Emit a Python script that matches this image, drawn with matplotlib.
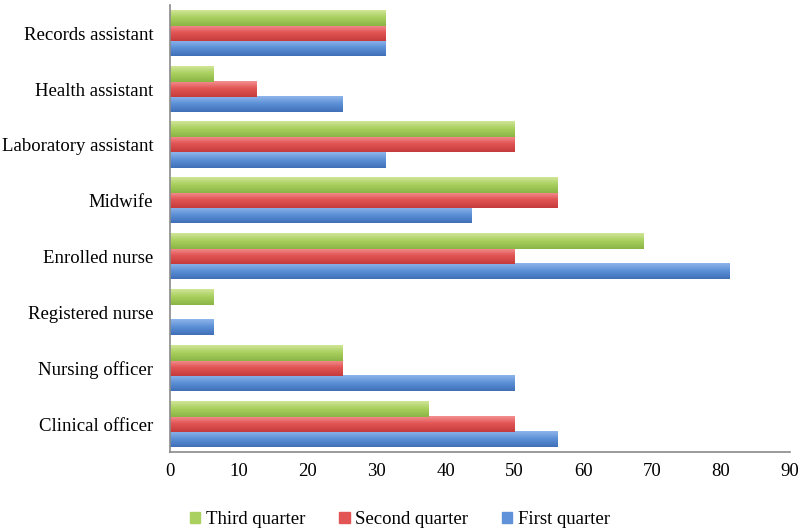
import matplotlib
matplotlib.use("Agg")
import matplotlib.pyplot as plt
import numpy as np
from matplotlib.patches import Patch
from matplotlib.colors import to_rgb

categories = ["Clinical officer", "Nursing officer", "Registered nurse", "Enrolled nurse",
              "Midwife", "Laboratory assistant", "Health assistant", "Records assistant"]
first_quarter = [56.25, 50, 6.25, 81.25, 43.75, 31.25, 25, 31.25]
second_quarter = [50, 25, 0, 50, 56.25, 50, 12.5, 31.25]
third_quarter = [37.5, 25, 6.25, 68.75, 56.25, 50, 6.25, 31.25]
xticks = [0, 10, 20, 30, 40, 50, 60, 70, 80, 90]

plt.rcParams['font.family'] = ['Liberation Serif', 'DejaVu Serif']

fig = plt.figure(figsize=(8, 5.3), dpi=100)
ax = fig.add_axes([0.2125, 0.147, 0.775, 0.843])

y = np.arange(len(categories))
h = 0.27
series = [(first_quarter, ("#8fb5ea", "#5f92d8", "#3f6fb8"), "First quarter", -h),
          (second_quarter, ("#f29090", "#e35555", "#c53c3c"), "Second quarter", 0),
          (third_quarter, ("#cfe596", "#aad160", "#8ab545"), "Third quarter", h)]

def gradient(cols, n=32):
    top, mid, bot = [np.array(to_rgb(c)) for c in cols]
    t = np.linspace(0, 1, n)
    rows = []
    for v in t:
        if v < 0.45:
            c = top + (mid - top) * (v / 0.45)
        else:
            c = mid + (bot - mid) * ((v - 0.45) / 0.55)
        rows.append(c)
    return np.array(rows)[:, None, :]

for vals, cols, lab, off in series:
    bars = ax.barh(y + off, vals, height=h, color=cols[1], edgecolor="none", label=lab, zorder=1)
    g = gradient(cols)
    for r in bars:
        w = r.get_width()
        if w <= 0:
            continue
        x0, y0, hh = r.get_x(), r.get_y(), r.get_height()
        ax.imshow(g, extent=[x0, x0 + w, y0, y0 + hh], origin="upper", aspect="auto",
                  interpolation="bilinear", zorder=2)

ax.set_xlim(0, 90)
ax.set_ylim(-0.5, len(categories) - 0.5)
ax.set_aspect("auto")
ax.set_xticks(xticks)
ax.set_yticks(y)
ax.set_yticklabels(categories, fontsize=13.5)
ax.tick_params(axis='x', length=0, labelsize=13.5, pad=8)
ax.tick_params(axis='y', length=0, pad=12)
for s in ["top", "right"]:
    ax.spines[s].set_visible(False)
for s in ["left", "bottom"]:
    ax.spines[s].set_color("#8a8a8a")
    ax.spines[s].set_linewidth(1.2)
    ax.spines[s].set_zorder(3)

handles = [Patch(color="#aad160", label="Third quarter"),
           Patch(color="#e35555", label="Second quarter"),
           Patch(color="#5f92d8", label="First quarter")]
fig.legend(handles=handles, loc="center", bbox_to_anchor=(0.5, 0.02), ncol=3, frameon=False,
           fontsize=13.5, handlelength=0.55, handleheight=0.55, handletextpad=0.3, columnspacing=1.8)

fig.savefig("out.png", dpi=100)
